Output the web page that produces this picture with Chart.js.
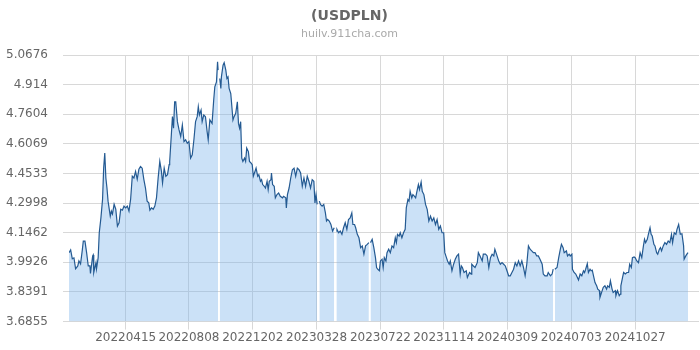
<!DOCTYPE html>
<html>
<head>
<meta charset="utf-8">
<script src="https://cdn.jsdelivr.net/npm/chart.js@4"></script>
<style>
  body { margin: 0; background: #fff; }
</style>
</head>
<body>
<canvas id="c" width="700" height="350"></canvas>
<script>
// day numbers count from 2022-01-01
const START = Date.UTC(2022, 0, 1);
const xTickLabels = ['20220415', '20220808', '20221202', '20230328', '20230722', '20231114', '20240309', '20240703', '20241027'];
const yTickLabels = ['3.6855', '3.8391', '3.9926', '4.1462', '4.2998', '4.4533', '4.6069', '4.7604', '4.914', '5.0676'];

const days = [
  1, 4, 7, 10, 13, 17, 19, 22, 25, 27, 30, 33, 36, 39, 40, 44, 45, 46, 50, 51,
  54, 56, 59, 62, 64, 66, 68, 70, 72, 76, 78, 80, 83, 86, 89, 92, 95, 98, 101, 104,
  107, 110, 113, 116, 119, 122, 125, 128, 131, 134, 137, 140, 143, 146, 148, 151, 154, 157, 160, 163,
  166, 169, 171, 174, 177, 180, 183, 184, 187, 189, 191, 193, 195, 198, 201, 204, 207, 210, 213, 216,
  219, 222, 225, 228, 231, 234, 236, 238, 241, 243, 246, 249, 252, 254, 257, 259, 261, 264, 266, 269,
  271, 272, 274, 275, 277, 278, 281, 283, 286, 288, 290, 292, 295, 296, 299, 301, 304, 307, 309, 311,
  313, 315, 317, 320, 322, 324, 327, 329, 332, 334, 336, 339, 341, 344, 346, 349, 351, 353, 356, 358,
  361, 363, 365, 368, 369, 371, 374, 376, 379, 382, 385, 389, 391, 395, 396, 398, 401, 404, 407, 410,
  413, 416, 419, 422, 425, 428, 431, 434, 437, 440, 443, 446, 448, 450, 452, 454, 456, 458, 461, 464,
  467, 469, 471, 474, 477, 480, 483, 485, 487, 488, 491, 494, 497, 500, 503, 506, 509, 512, 515, 517,
  520, 522, 525, 528, 531, 534, 537, 540, 543, 546, 547, 549, 552, 555, 558, 560, 562, 565, 567, 570,
  572, 574, 577, 579, 582, 585, 588, 591, 594, 596, 598, 601, 603, 606, 609, 612, 614, 617, 619, 621,
  624, 626, 629, 631, 634, 636, 638, 641, 643, 646, 649, 652, 655, 658, 661, 664, 667, 670, 673, 676,
  679, 682, 684, 687, 689, 692, 694, 697, 700, 703, 706, 709, 712, 714, 716, 719, 723, 725, 729, 732,
  733, 736, 739, 743, 745, 748, 752, 754, 758, 761, 764, 767, 770, 773, 775, 778, 780, 782, 785, 788,
  791, 794, 797, 800, 803, 806, 809, 812, 815, 818, 821, 824, 827, 830, 833, 836, 839, 842, 845, 848,
  851, 854, 857, 861, 863, 866, 870, 872, 876, 879, 881, 883, 884, 888, 891, 894, 896, 899, 901, 905,
  907, 910, 912, 915, 916, 919, 922, 925, 927, 930, 933, 936, 938, 940, 943, 945, 948, 950, 952, 955,
  957, 960, 962, 965, 966, 969, 972, 975, 978, 980, 983, 985, 988, 990, 994, 995, 998, 1001, 1003, 1004,
  1007, 1009, 1012, 1015, 1018, 1020, 1023, 1025, 1028, 1030, 1033, 1036, 1039, 1042, 1045, 1047, 1049, 1052, 1054, 1057,
  1059, 1061, 1064, 1066, 1069, 1071, 1074, 1076, 1078, 1081, 1084, 1087, 1090, 1093, 1096, 1098, 1101, 1104, 1106, 1109,
  1112, 1115, 1118, 1119, 1122, 1124, 1126
];
const rates = [
  4.043, 4.057, 4.011, 4.016, 3.959, 3.974, 4.000, 3.985, 4.052, 4.103, 4.103, 4.043, 3.974, 3.974, 3.935, 4.026, 4.031, 3.940, 3.991, 3.959,
  4.017, 4.146, 4.223, 4.320, 4.481, 4.559, 4.430, 4.378, 4.310, 4.232, 4.258, 4.243, 4.294, 4.268, 4.181, 4.198, 4.268, 4.263, 4.284, 4.275,
  4.284, 4.258, 4.320, 4.439, 4.430, 4.464, 4.423, 4.475, 4.490, 4.481, 4.423, 4.378, 4.310, 4.301, 4.263, 4.275, 4.268, 4.284, 4.327, 4.430,
  4.516, 4.464, 4.404, 4.481, 4.439, 4.447, 4.499, 4.516, 4.654, 4.748, 4.688, 4.825, 4.825, 4.722, 4.679, 4.645, 4.705, 4.619, 4.628, 4.610,
  4.619, 4.533, 4.550, 4.628, 4.722, 4.748, 4.800, 4.757, 4.782, 4.722, 4.757, 4.748, 4.671, 4.628, 4.731, 4.722, 4.713, 4.834, 4.903, 4.928,
  5.032, 4.989, null, 4.946, 4.894, 4.954, 5.015, 5.028, 4.989, 4.946, 4.954, 4.894, 4.868, 4.834, 4.731, 4.748, 4.765, 4.825, 4.713, 4.688,
  4.722, 4.533, 4.516, 4.533, 4.516, 4.585, 4.567, 4.516, 4.507, 4.499, 4.439, 4.464, 4.481, 4.439, 4.447, 4.413, 4.421, 4.396, 4.387, 4.378,
  4.413, 4.370, 4.413, 4.421, 4.456, 4.396, 4.387, 4.327, 4.344, 4.352, 4.335, 4.327, 4.335, 4.327, 4.275, 4.344, 4.378, 4.430, 4.473, 4.481,
  4.439, 4.481, 4.473, 4.456, 4.387, 4.430, 4.387, 4.439, 4.413, 4.378, 4.421, 4.413, 4.301, 4.344, 4.293, null, 4.310, 4.293, 4.284, 4.293,
  4.249, 4.207, 4.215, 4.207, 4.189, 4.155, 4.172, null, 4.155, 4.164, 4.146, 4.155, 4.138, 4.172, 4.198, 4.164, 4.215, 4.223, 4.249, 4.189,
  4.189, 4.172, 4.138, 4.120, 4.069, 4.078, 4.035, 4.078, 4.086, 4.095, null, 4.095, 4.112, 4.069, 4.017, 3.966, 3.957, 3.949, 4.000, 4.009,
  3.966, 4.017, 4.000, 4.043, 4.061, 4.043, 4.078, 4.069, 4.120, 4.095, 4.138, 4.129, 4.146, 4.120, 4.146, 4.164, 4.275, 4.318, 4.310, 4.361,
  4.327, 4.344, 4.335, 4.327, 4.370, 4.396, 4.370, 4.409, 4.361, 4.344, 4.293, 4.267, 4.207, 4.232, 4.207, 4.223, 4.189, 4.215, 4.164, 4.181,
  4.146, 4.146, 4.043, 4.017, 4.000, 3.983, 4.000, 3.949, 3.983, 4.009, 4.026, 4.035, 3.932, 3.974, 3.966, 3.940, 3.949, 3.914, 3.940, 3.932,
  3.983, 3.974, 3.966, 3.991, 4.043, 4.026, 4.000, 4.035, 4.035, 4.026, 3.966, 4.017, 4.035, 4.026, 4.061, 4.035, 4.017, 4.000, 3.983, 3.991,
  3.983, 3.974, 3.949, 3.923, 3.923, 3.940, 3.957, 3.991, 3.974, 4.000, 3.974, 4.000, 3.966, 3.923, 3.983, 4.078, 4.061, 4.052, 4.043, 4.043,
  4.026, 4.026, 4.009, 3.983, 3.932, 3.923, 3.923, 3.940, 3.923, 3.932, 3.957, null, 3.957, 3.966, 4.017, 4.061, 4.086, 4.069, 4.043, 4.052,
  4.026, 4.035, 4.026, 4.035, 3.957, 3.940, 3.932, 3.914, 3.901, 3.932, 3.923, 3.949, 3.940, 3.957, 3.986, 3.940, 3.957, 3.949, 3.952, 3.914,
  3.888, 3.871, 3.854, 3.846, 3.811, 3.837, 3.863, 3.871, 3.854, 3.871, 3.863, 3.897, 3.854, 3.837, 3.846, 3.820, 3.846, 3.820, 3.828, 3.871,
  3.914, 3.940, 3.932, 3.940, 3.940, 3.983, 3.966, 4.017, 4.021, 4.017, 4.000, 3.991, 4.043, 4.017, 4.078, 4.112, 4.095, 4.112, 4.138, 4.172,
  4.138, 4.129, 4.086, 4.078, 4.043, 4.035, 4.061, 4.069, 4.052, 4.078, 4.095, 4.086, 4.103, 4.095, 4.138, 4.095, 4.146, 4.138, 4.164, 4.189,
  4.138, 4.141, 4.078, 4.009, 4.026, 4.035, 4.043
];

function dayOf(s) {
  return (Date.UTC(+s.slice(0, 4), +s.slice(4, 6) - 1, +s.slice(6, 8)) - START) / 86400000;
}
const xTickDays = xTickLabels.map(dayOf);
const yTickVals = yTickLabels.map(Number);
const points = days.map((d, i) => ({ x: d, y: rates[i] }));

Chart.defaults.font.family = "'DejaVu Sans', sans-serif";
Chart.defaults.font.size = 12;
Chart.defaults.color = '#666';

new Chart(document.getElementById('c'), {
  type: 'line',
  data: {
    datasets: [{
      label: 'USDPLN',
      data: points,
      borderColor: '#245a92',
      borderWidth: 1.2,
      backgroundColor: 'rgba(124,181,236,0.4)',
      fill: 'start',
      pointRadius: 0,
      tension: 0,
      spanGaps: false
    }]
  },
  options: {
    responsive: false,
    animation: false,
    devicePixelRatio: 1,
    layout: { padding: { left: 0, right: 1, top: 0, bottom: 4 } },
    plugins: {
      legend: { display: false },
      tooltip: { enabled: false },
      title: {
        display: true,
        text: '(USDPLN)',
        color: '#666',
        font: { size: 14, weight: 'bold' },
        padding: { top: 8, bottom: 3 }
      },
      subtitle: {
        display: true,
        text: 'huilv.911cha.com',
        color: '#aaa',
        font: { size: 11 },
        padding: { top: 0, bottom: 14 }
      }
    },
    scales: {
      x: {
        type: 'linear',
        min: days[0],
        max: 1146,
        afterBuildTicks: (scale) => { scale.ticks = xTickDays.map(v => ({ value: v })); },
        ticks: {
          autoSkip: false,
          maxRotation: 0,
          padding: 1,
          color: '#666',
          callback: (v, i) => xTickLabels[i]
        },
        grid: { color: '#d8d8d8', tickLength: 8 },
        border: { display: false }
      },
      y: {
        min: yTickVals[0],
        max: yTickVals[yTickVals.length - 1],
        afterBuildTicks: (scale) => { scale.ticks = yTickVals.map(v => ({ value: v })); },
        afterFit: (scale) => { scale.width = 69; },
        ticks: {
          autoSkip: false,
          padding: 15,
          color: '#666',
          callback: (v, i) => yTickLabels[i]
        },
        grid: { color: '#d8d8d8', tickLength: 6 },
        border: { display: false }
      }
    }
  }
});
</script>
</body>
</html>
